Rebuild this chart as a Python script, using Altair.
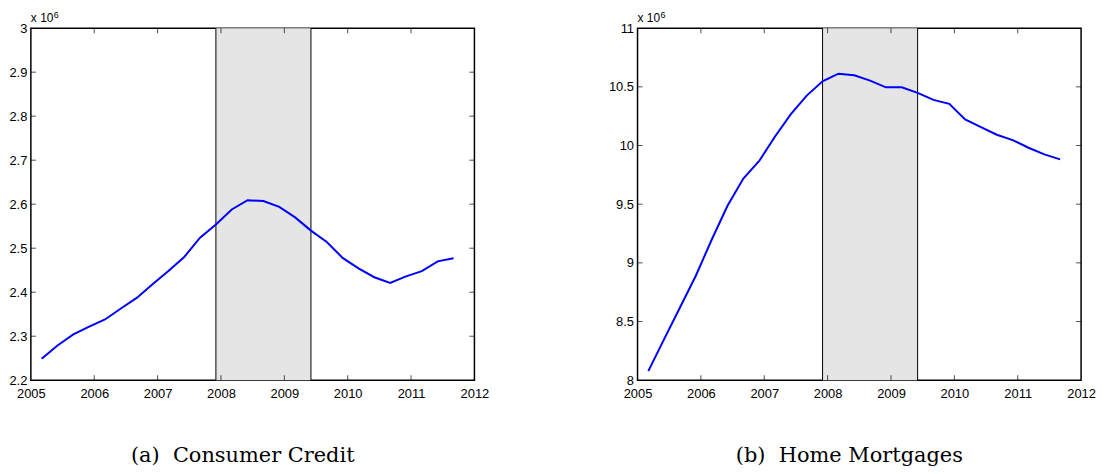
import altair as alt
import pandas as pd

# Quarterly observation dates (decimal years)
dates = [2005.17, 2005.42, 2005.67, 2005.92, 2006.17, 2006.42, 2006.67, 2006.92,
         2007.17, 2007.42, 2007.67, 2007.92, 2008.17, 2008.42, 2008.67, 2008.92,
         2009.17, 2009.42, 2009.67, 2009.92, 2010.17, 2010.42, 2010.67, 2010.92,
         2011.17, 2011.42, 2011.67]

# Values in units of 10^6
consumer_credit = [2.249, 2.279, 2.304, 2.322, 2.338, 2.363, 2.387, 2.418, 2.448,
                   2.480, 2.524, 2.554, 2.588, 2.609, 2.607, 2.594, 2.570, 2.540,
                   2.514, 2.478, 2.454, 2.434, 2.421, 2.436, 2.448, 2.470, 2.477]
home_mortgages = [8.077, 8.350, 8.620, 8.890, 9.197, 9.486, 9.718, 9.868, 10.077,
                  10.267, 10.425, 10.547, 10.612, 10.598, 10.553, 10.496, 10.496,
                  10.448, 10.389, 10.355, 10.222, 10.156, 10.092, 10.046, 9.981,
                  9.924, 9.882]

recession = [2007.92, 2009.42]
x_ticks = [2005, 2006, 2007, 2008, 2009, 2010, 2011, 2012]
left_y_ticks = [2.2, 2.3, 2.4, 2.5, 2.6, 2.7, 2.8, 2.9, 3.0]
right_y_ticks = [8, 8.5, 9, 9.5, 10, 10.5, 11]
captions = ["(a)\u00a0\u00a0Consumer Credit", "(b)\u00a0\u00a0Home Mortgages"]

W, H = 446, 354
AX_FONT = "Liberation Sans"


def panel(vals, ydom, yticks, caption):
    xs = alt.Scale(domain=[x_ticks[0], x_ticks[-1]], nice=False, zero=False)
    ys = alt.Scale(domain=ydom, nice=False, zero=False)
    X = alt.X("t:Q", scale=xs,
              axis=alt.Axis(values=x_ticks, format="d", title=None, domain=False,
                            ticks=False, tickSize=0, grid=False, labelFont=AX_FONT,
                            labelFontSize=13, labelColor="black", labelPadding=7,
                            labelFlush=False))
    Y = alt.Y("v:Q", scale=ys,
              axis=alt.Axis(values=yticks, format="~g", title=None, domain=False,
                            ticks=False, tickSize=0, grid=False, labelFont=AX_FONT,
                            labelFontSize=13, labelColor="black", labelPadding=4,
                            labelFlush=False))

    rec_df = pd.DataFrame({"t": [recession[0]], "t2": [recession[1]]})
    rect = alt.Chart(rec_df).mark_rect(color="#e5e5e5").encode(x=X, x2="t2:Q")
    rules = alt.Chart(pd.DataFrame({"t": recession})).mark_rule(
        color="black", strokeWidth=1).encode(x=X)

    df = pd.DataFrame({"t": dates, "v": vals})
    line = alt.Chart(df).mark_line(color="#0000ff", strokeWidth=2).encode(x=X, y=Y)

    xt = pd.DataFrame({"t": x_ticks[1:-1]})
    yt = pd.DataFrame({"v": yticks[1:-1]})
    tick_b = alt.Chart(xt).mark_tick(orient="vertical", size=5, thickness=1,
                                     color="black").encode(x=X, y=alt.value(H - 2.5))
    tick_t = alt.Chart(xt).mark_tick(orient="vertical", size=5, thickness=1,
                                     color="black").encode(x=X, y=alt.value(2.5))
    tick_l = alt.Chart(yt).mark_tick(orient="horizontal", size=5, thickness=1,
                                     color="black").encode(y=Y, x=alt.value(2.5))
    tick_r = alt.Chart(yt).mark_tick(orient="horizontal", size=5, thickness=1,
                                     color="black").encode(y=Y, x=alt.value(W - 2.5))

    one = pd.DataFrame({"a": [0]})
    mult = alt.Chart(one).mark_text(align="left", baseline="alphabetic", font=AX_FONT,
                                    fontSize=12, color="black").encode(
        x=alt.value(0), y=alt.value(-6), text=alt.value("x 10"))
    expo = alt.Chart(one).mark_text(align="left", baseline="alphabetic", font=AX_FONT,
                                    fontSize=9, color="black").encode(
        x=alt.value(23), y=alt.value(-10), text=alt.value("6"))

    return alt.layer(rect, rules, line, tick_b, tick_t, tick_l, tick_r, mult, expo).properties(
        width=W, height=H,
        title=alt.TitleParams(caption, orient="bottom", font="DejaVu Serif", fontSize=21,
                              fontWeight="normal", color="black", offset=45,
                              anchor="middle", dx=-10))


left = panel(consumer_credit, [2.2, 3.0], left_y_ticks, captions[0])
right = panel(home_mortgages, [8, 11], right_y_ticks, captions[1])

chart = alt.hconcat(left, right, spacing=117).configure_view(
    stroke="black", strokeWidth=1.5
).properties(padding={"left": 0, "top": 1, "right": 0, "bottom": 0})

chart.save("out.html", embed_options={"renderer": "svg", "actions": False})
